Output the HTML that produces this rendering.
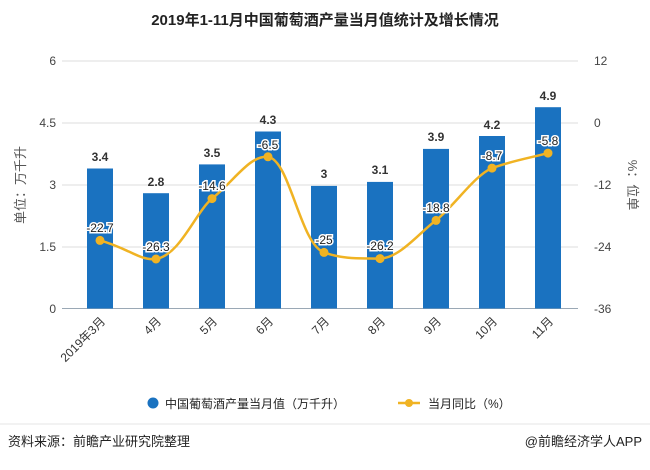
<!DOCTYPE html>
<html><head><meta charset="utf-8"><style>
body{margin:0;background:#fff;font-family:"Liberation Sans","Noto Sans CJK SC",sans-serif;}
</style></head><body>
<svg width="650" height="465" xmlns="http://www.w3.org/2000/svg" font-family="Liberation Sans, Noto Sans CJK SC, sans-serif">
<text x="325" y="25" text-anchor="middle" font-size="15" font-weight="bold" fill="#222">2019年1-11月中国葡萄酒产量当月值统计及增长情况</text>
<g stroke="#dcdcdc" stroke-width="1">
<line x1="62" y1="61" x2="578" y2="61"/><line x1="62" y1="123" x2="578" y2="123"/>
<line x1="62" y1="185" x2="578" y2="185"/><line x1="62" y1="247" x2="578" y2="247"/>
</g>
<line x1="62" y1="308.5" x2="578" y2="308.5" stroke="#9aa8b5"/>
<g font-size="12" fill="#444">
<text x="56" y="65" text-anchor="end">6</text><text x="56" y="127" text-anchor="end">4.5</text>
<text x="56" y="189" text-anchor="end">3</text><text x="56" y="251" text-anchor="end">1.5</text>
<text x="56" y="313" text-anchor="end">0</text>
<text x="594" y="65">12</text><text x="594" y="127">0</text><text x="594" y="189">-12</text>
<text x="594" y="251">-24</text><text x="594" y="313">-36</text>
</g>
<text transform="translate(25,185) rotate(-90)" text-anchor="middle" font-size="13" fill="#555">单位：万千升</text>
<text transform="translate(628,185) rotate(90)" text-anchor="middle" font-size="13" fill="#555">%：位单</text>
<g fill="#1a72c0">
<rect x="87" y="168.5" width="26" height="140"/><rect x="143" y="193.2" width="26" height="115.3"/>
<rect x="199" y="164.4" width="26" height="144.1"/><rect x="255" y="131.5" width="26" height="177"/>
<rect x="311" y="185.9" width="26" height="122.6"/><rect x="367" y="181.9" width="26" height="126.6"/>
<rect x="423" y="148.9" width="26" height="159.6"/><rect x="479" y="136" width="26" height="172.5"/>
<rect x="535" y="107.2" width="26" height="201.3"/>
</g>
<g font-size="12" font-weight="bold" fill="#333" text-anchor="middle">
<text x="100" y="161">3.4</text><text x="156" y="186">2.8</text><text x="212" y="157">3.5</text>
<text x="268" y="124">4.3</text><text x="324" y="178">3</text><text x="380" y="174">3.1</text>
<text x="436" y="141">3.9</text><text x="492" y="129">4.2</text><text x="548" y="100">4.9</text>
</g>
<path d="M100,240.4 C128,248 140,261 156,259 C180,255 195,213 212,198.6 C235,180 250,155 268,156.8 C290,160 300,244 324,252.4 C345,260 362,258 380,258.6 C400,258 420,232 436,220.4 C455,205 475,175 492,168.1 C515,160 530,158 548,153.1" fill="none" stroke="#f0b323" stroke-width="2.5"/>
<g fill="#f0b323">
<circle cx="100" cy="240.4" r="4.5"/><circle cx="156" cy="259" r="4.5"/><circle cx="212" cy="198.6" r="4.5"/>
<circle cx="268" cy="156.8" r="4.5"/><circle cx="324" cy="252.4" r="4.5"/><circle cx="380" cy="258.6" r="4.5"/>
<circle cx="436" cy="220.4" r="4.5"/><circle cx="492" cy="168.1" r="4.5"/><circle cx="548" cy="153.1" r="4.5"/>
</g>
<g font-size="12" fill="#222" text-anchor="middle" stroke="#fff" stroke-width="3" paint-order="stroke">
<text x="100" y="232">-22.7</text><text x="156" y="251">-26.3</text><text x="212" y="190">-14.6</text>
<text x="268" y="149">-6.5</text><text x="324" y="244">-25</text><text x="380" y="250">-26.2</text>
<text x="436" y="212">-18.8</text><text x="492" y="160">-8.7</text><text x="548" y="145">-5.8</text>
</g>
<g font-size="12" fill="#333" text-anchor="end">
<text transform="translate(106,322) rotate(-45)">2019年3月</text>
<text transform="translate(162,322) rotate(-45)">4月</text>
<text transform="translate(218,322) rotate(-45)">5月</text>
<text transform="translate(274,322) rotate(-45)">6月</text>
<text transform="translate(330,322) rotate(-45)">7月</text>
<text transform="translate(386,322) rotate(-45)">8月</text>
<text transform="translate(442,322) rotate(-45)">9月</text>
<text transform="translate(498,322) rotate(-45)">10月</text>
<text transform="translate(554,322) rotate(-45)">11月</text>
</g>
<circle cx="153" cy="403" r="5.5" fill="#1a72c0"/>
<text x="165" y="408" font-size="12" fill="#222">中国葡萄酒产量当月值（万千升）</text>
<line x1="398" y1="403" x2="420" y2="403" stroke="#f0b323" stroke-width="2.5"/>
<circle cx="409" cy="403" r="4" fill="#f0b323"/>
<text x="428" y="408" font-size="12" fill="#222">当月同比（%）</text>
<line x1="0" y1="424" x2="650" y2="424" stroke="#e6e6e6"/>
<text x="8" y="446" font-size="13" fill="#222">资料来源：前瞻产业研究院整理</text>
<text x="642" y="446" font-size="13" fill="#222" text-anchor="end">@前瞻经济学人APP</text>
</svg>
</body></html>
